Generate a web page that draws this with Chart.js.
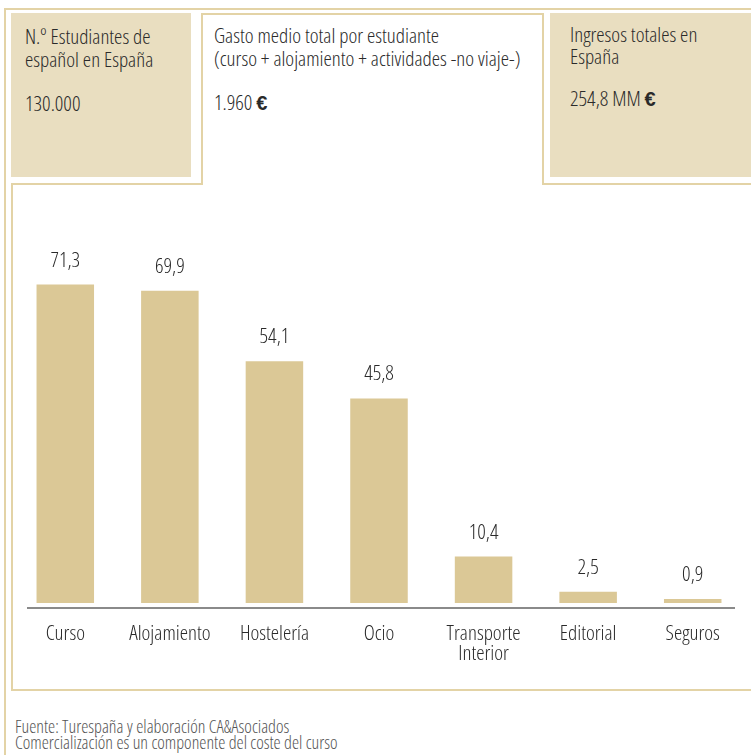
<!DOCTYPE html>
<html lang="es">
<head>
    <meta charset="UTF-8" />
    <title>Gasto estudiantes de español</title>
    <script src="https://cdn.jsdelivr.net/npm/chart.js"></script>
    <style>
        body { margin: 0; background: #fff; font-family: 'Open Sans', sans-serif; font-stretch: 75%; font-weight: 360; color: #333; }
        #page { position: relative; width: 751px; height: 755px; overflow: hidden; }
        .line { position: absolute; background: #e3d3a6; }
        .fill { position: absolute; background: #e9dec0; }
        .txt { position: absolute; font-size: 21px; line-height: 23px; color: #2a2a2a; white-space: nowrap; }
        .txt b { font-family: 'Liberation Sans', sans-serif; font-size: 20px; font-weight: 700; font-stretch: normal; }
        #footer { position: absolute; left: 15px; top: 718px; font-size: 18px; line-height: 16px; color: #555; white-space: nowrap; font-weight: 320; }
        canvas { position: absolute; left: 0; top: 185px; }
    </style>
</head>
<body>
<div id="page">
    <!-- outer frame -->
    <div class="line" style="left:4px; top:8px; width:747px; height:2px;"></div>
    <div class="line" style="left:4px; top:8px; width:2px; height:747px;"></div>

    <!-- panel outline with the middle tab -->
    <div class="line" style="left:11px; top:183px; width:192px; height:2px;"></div>
    <div class="line" style="left:201px; top:13px; width:2px; height:172px;"></div>
    <div class="line" style="left:201px; top:13px; width:343px; height:2px;"></div>
    <div class="line" style="left:542px; top:13px; width:2px; height:172px;"></div>
    <div class="line" style="left:542px; top:183px; width:209px; height:2px;"></div>
    <div class="line" style="left:11px; top:183px; width:2px; height:508px;"></div>
    <div class="line" style="left:11px; top:689px; width:740px; height:2px;"></div>

    <div class="fill" style="left:11px; top:13px; width:180px; height:164px;"></div>
    <div class="fill" style="left:550px; top:13px; width:201px; height:164px;"></div>

    <div class="txt" style="left:25px; top:25px;">N.º Estudiantes de<br>español en España</div>
    <div class="txt" style="left:25px; top:92px;">130.000</div>

    <div class="txt" style="left:214px; top:24px;">Gasto medio total por estudiante<br>(curso + alojamiento + actividades -no viaje-)</div>
    <div class="txt" style="left:214px; top:91px;">1.960 <b>€</b></div>

    <div class="txt" style="left:570px; top:23px; line-height:22px;">Ingresos totales en<br>España</div>
    <div class="txt" style="left:570px; top:87px;">254,8 MM <b>€</b></div>

    <canvas id="chart" width="751" height="500"></canvas>

    <div id="footer">Fuente: Turespaña y elaboración CA&amp;Asociados<br>Comercialización es un componente del coste del curso</div>
</div>

<script>
    const categories = ['Curso', 'Alojamiento', 'Hostelería', 'Ocio', ['Transporte', 'Interior'], 'Editorial', 'Seguros'];
    const values = [71.3, 69.9, 54.1, 45.8, 10.4, 2.5, 0.9];

    const fontName = "'Open Sans', sans-serif";

    // value labels above the bars and the grey base line
    const extras = {
        id: 'extras',
        afterDatasetsDraw(chart) {
            const ctx = chart.ctx;
            const area = chart.chartArea;
            const zero = chart.scales.y.getPixelForValue(0);
            ctx.save();
            ctx.strokeStyle = '#8a8a8a';
            ctx.lineWidth = 2;
            ctx.beginPath();
            ctx.moveTo(area.left + 14, zero + 5);
            ctx.lineTo(area.right - 10, zero + 5);
            ctx.stroke();

            ctx.fillStyle = '#2a2a2a';
            ctx.font = '360 condensed 21px ' + fontName;
            ctx.textAlign = 'center';
            ctx.textBaseline = 'middle';
            chart.getDatasetMeta(0).data.forEach((bar, i) => {
                ctx.fillText(values[i].toFixed(1).replace('.', ','), bar.x, bar.y - 24);
            });
            ctx.restore();
        }
    };

    new Chart(document.getElementById('chart'), {
        type: 'bar',
        data: {
            labels: categories,
            datasets: [{
                data: values,
                backgroundColor: '#dbc896',
                categoryPercentage: 1,
                barPercentage: 0.55
            }]
        },
        options: {
            responsive: false,
            animation: false,
            layout: { padding: { left: 13, right: 6, top: 83, bottom: 0 } },
            plugins: { legend: { display: false }, tooltip: { enabled: false } },
            scales: {
                x: {
                    grid: { display: false, drawTicks: false },
                    border: { display: false },
                    ticks: {
                        color: '#2a2a2a',
                        padding: 21,
                        maxRotation: 0,
                        autoSkip: false,
                        // weight slot carries the condensed stretch into the canvas font string
                        font: { family: fontName, size: 21, weight: '360 condensed', lineHeight: 0.96 }
                    },
                    afterFit(scale) { scale.height = 82; }
                },
                y: {
                    display: false,
                    min: 0,
                    max: 75
                }
            }
        },
        plugins: [extras]
    });
</script>
</body>
</html>
